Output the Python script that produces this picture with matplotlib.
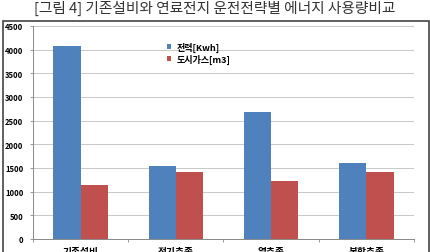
import numpy as np
import matplotlib.pyplot as plt
from matplotlib.patches import Rectangle

plt.rcParams['font.family'] = ['Noto Sans CJK KR', 'DejaVu Sans']

title = '[그림 4] 기존설비와 연료전지 운전전략별 에너지 사용량비교'
categories = ['기존설비', '전기추종', '열추종', '복합추종']
elec = [4070, 1550, 2680, 1600]
gas = [1150, 1415, 1225, 1405]
yticks = [0, 500, 1000, 1500, 2000, 2500, 3000, 3500, 4000, 4500]

fig = plt.figure(figsize=(4.31, 2.53), dpi=100)
ax = fig.add_axes([33/431, 13/253, 381/431, 213/253])

x = np.arange(len(categories))
w = 0.285
ax.bar(x - w/2, elec, w, color='#4F81BD', label='전력[Kwh]', zorder=3)
ax.bar(x + w/2, gas, w, color='#C0504D', label='도시가스[m3]', zorder=3)

ax.set_xlim(-0.5, len(categories) - 0.5)
ax.set_ylim(0, 4500)
ax.set_yticks(yticks)
ax.set_yticklabels([str(v) for v in yticks], fontsize=5.5, fontweight='bold')
ax.yaxis.grid(True, color='#c8c8c8', lw=0.7, zorder=0)

ax.set_xticks(x)
ax.set_xticklabels(categories, fontsize=7, fontweight='bold')
ax.set_xticks(np.arange(len(categories) + 1) - 0.5, minor=True)
ax.tick_params(axis='x', which='major', length=0, pad=5)
ax.tick_params(axis='x', which='minor', length=2.5, color='#888888', width=0.6)
ax.tick_params(axis='y', length=2, color='#888888', width=0.6, pad=5)

for s in ['top', 'right']:
    ax.spines[s].set_visible(False)
for s in ['left', 'bottom']:
    ax.spines[s].set_color('#888888')
    ax.spines[s].set_linewidth(0.7)

leg = ax.legend(loc='upper left', bbox_to_anchor=(0.33, 0.965), frameon=False,
                prop={'size': 6.5, 'weight': 'bold'}, handlelength=0.45,
                handleheight=0.45, handletextpad=0.6, labelspacing=0.25)

fig.add_artist(Rectangle((3/431, -0.1), 426/431, 1.1 - 22/253,
                         transform=fig.transFigure, fill=False,
                         edgecolor='#444444', lw=1.2, clip_on=False))

fig.text(215/431, 1 - 13/253, title, ha='center', va='baseline',
         fontsize=10.6, color='#333333')

fig.savefig('out.png', dpi=100)
